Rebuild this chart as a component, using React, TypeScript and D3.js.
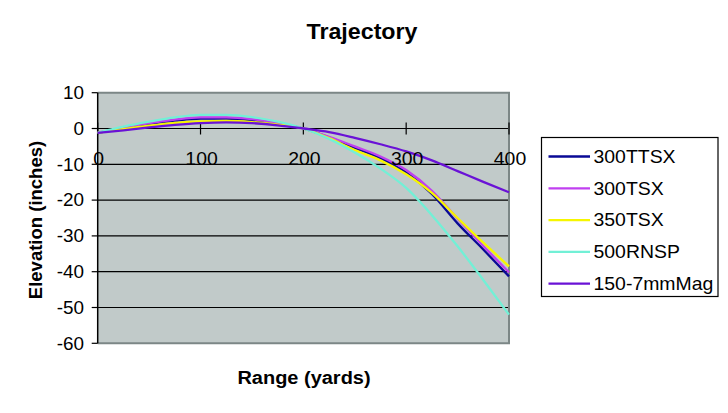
import React from 'react';
import * as d3 from 'd3';

// Range in yards, one reading every 25 yards
const ranges = [0, 25, 50, 75, 100, 125, 150, 175, 200, 225, 250, 275, 300, 325, 350, 375, 400];

// Elevation in inches
const ttsx300 = [-1.2, 0.1, 1.3, 2.2, 2.8, 2.8, 2.3, 1.3, 0, -2.5, -5.4, -8.3, -12.3, -18.3, -26.5, -33.8, -41.3];
const tsx300 = [-1.2, 0.2, 1.5, 2.5, 3.1, 3.1, 2.6, 1.5, 0, -2.3, -5.0, -7.8, -11.6, -17.4, -25.2, -32.8, -40.2];
const tsx350 = [-1.2, -0.2, 0.8, 1.6, 2.0, 2.1, 1.8, 1.1, 0, -2.7, -6.0, -8.9, -12.8, -18.0, -25.0, -31.9, -38.5];
const rnsp500 = [-1.2, 0.5, 1.9, 3.1, 3.8, 3.8, 3.2, 1.9, 0, -2.9, -6.7, -11.2, -16.6, -24.2, -32.9, -42.3, -52.0];
const mag7mm150 = [-1.2, -0.5, 0.3, 1.0, 1.5, 1.7, 1.5, 0.9, 0, -1.0, -2.6, -4.4, -6.4, -8.9, -11.9, -14.9, -17.8];

const seriesNames = ['300TTSX', '300TSX', '350TSX', '500RNSP', '150-7mmMag'];
const seriesValues = [ttsx300, tsx300, tsx350, rnsp500, mag7mm150];
const seriesColors = ['#0a0a96', '#c040f0', '#f6f600', '#72f0d6', '#6a12d6'];

const xTicks = [0, 100, 200, 300, 400];
const yTicks = [10, 0, -10, -20, -30, -40, -50, -60];

const W = 728;
const H = 413;
const font = '"Liberation Sans", Arial, sans-serif';
const stretch = 1.08; // the original picture is a bit wide

function Label({ x, y, size, anchor = 'middle', bold = false, children }: any) {
  return (
    <g transform={`translate(${x},${y}) scale(${stretch},1)`}>
      <text textAnchor={anchor} fontSize={size} fontWeight={bold ? 'bold' : 'normal'} fontFamily={font} fill="#000">
        {children}
      </text>
    </g>
  );
}

export default function App() {
  const x = d3.scaleLinear().domain([0, 400]).range([97.7, 509]);
  const y = d3.scaleLinear().domain([-60, 10]).range([343.3, 92.7]);

  const line = d3.line<number>()
    .x((_, i) => x(ranges[i]))
    .y(d => y(d))
    .curve(d3.curveMonotoneX);

  const [x0, x1] = x.range();
  const [yb, yt] = y.range();

  const legend = { left: 541.5, top: 137.5, right: 718, bottom: 296.5, first: 156.5, step: 31.8 };

  return (
    <svg width={W} height={H} style={{ position: 'absolute', left: 0, top: 0, background: '#fff' }}>
      {/* plot area */}
      <rect x={x0} y={yt} width={x1 - x0} height={yb - yt} fill="#c1cac9" />

      {/* horizontal gridlines */}
      {yTicks.filter(t => t !== 10 && t !== -60).map(t => (
        <line key={t} x1={x0} x2={x1} y1={y(t)} y2={y(t)} stroke="#000" strokeWidth={1.2} />
      ))}

      {/* plot border: grey top, right and bottom */}
      <path d={`M${x0},${yt}H${x1}V${yb}H${x0}`} fill="none" stroke="#7c8786" strokeWidth={2} />

      {/* y axis */}
      <line x1={x0} x2={x0} y1={yt} y2={yb} stroke="#000" strokeWidth={1.5} />
      {yTicks.map(t => (
        <line key={t} x1={x0 - 6} x2={x0} y1={y(t)} y2={y(t)} stroke="#000" strokeWidth={1.2} />
      ))}
      {yTicks.map(t => (
        <Label key={t} x={84} y={y(t) + 6.3} size={17.5} anchor="end">{t}</Label>
      ))}

      {/* x axis ticks at zero */}
      {xTicks.map(t => (
        <line key={t} x1={x(t)} x2={x(t)} y1={y(0) - 6} y2={y(0) + 6} stroke="#000" strokeWidth={1.2} />
      ))}

      {/* series */}
      {seriesValues.map((vals, i) => (
        <path key={seriesNames[i]} d={line(vals) || ''} fill="none" stroke={seriesColors[i]} strokeWidth={2.3} />
      ))}

      {xTicks.map(t => (
        <Label key={t} x={x(t) + 1} y={164.5} size={18}>{t}</Label>
      ))}

      {/* titles */}
      <Label x={362} y={38.5} size={21.5} bold>Trajectory</Label>
      <Label x={304} y={383.5} size={18.5} bold>Range (yards)</Label>
      <text transform={`translate(42,220) rotate(-90)`} textAnchor="middle" fontSize={18.5}
        fontWeight="bold" fontFamily={font} fill="#000">Elevation (inches)</text>

      {/* legend */}
      <rect x={legend.left} y={legend.top} width={legend.right - legend.left} height={legend.bottom - legend.top}
        fill="#fff" stroke="#000" strokeWidth={1.2} />
      {seriesNames.map((name, i) => {
        const ly = legend.first + i * legend.step;
        return (
          <g key={name}>
            <line x1={548.5} x2={590} y1={ly} y2={ly} stroke={seriesColors[i]} strokeWidth={2.3} />
            <Label x={593.5} y={ly + 6.3} size={18} anchor="start">{name}</Label>
          </g>
        );
      })}
    </svg>
  );
}
